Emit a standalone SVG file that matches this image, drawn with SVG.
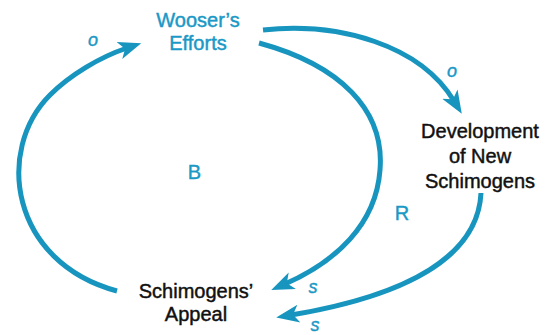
<svg xmlns="http://www.w3.org/2000/svg" width="545" height="335" viewBox="0 0 545 335">
<style>
.link{fill:none;stroke:#1795bf;stroke-width:5;}
.node{font-family:"Liberation Sans",Arial,sans-serif;font-size:20px;text-anchor:middle;fill:#111;stroke:#111;stroke-width:0.45;}
.blue{fill:#1a98c6;stroke:#1a98c6;}
.lbl{font-family:"Liberation Sans",Arial,sans-serif;font-size:18px;text-anchor:middle;fill:#1a98c6;stroke:#1a98c6;stroke-width:0.4;}
.big{font-size:20px;}
.pol{font-style:italic;}
</style>
<defs>
<marker id="ah" markerUnits="userSpaceOnUse" markerWidth="24" markerHeight="22" viewBox="0 -11 24 22" refX="8" refY="0" orient="auto">
<path d="M0,-9 L23,0 L0,9 L6,0 Z" fill="#1795bf"/>
</marker>
</defs>
<g id="connectors">
<path class="link" marker-end="url(#ah)" d="M 117 291 C 10 262, -5 150, 50 95 C 70 75, 100 57, 127 48"/>
<path class="link" marker-end="url(#ah)" d="M 263 30 C 340 22, 420 45, 454 101"/>
<path class="link" marker-end="url(#ah)" d="M 259 43 C 340 65, 385 110, 380 170 C 376 225, 335 262, 285 284"/>
<path class="link" marker-end="url(#ah)" d="M 481 193 C 478 255, 410 295, 291 315"/>
</g>
<g id="wooser">
<text class="node blue" x="198" y="27">Wooser’s</text>
<text class="node blue" x="198" y="50">Efforts</text>
</g>
<g id="development">
<text class="node" x="480" y="138">Development</text>
<text class="node" x="480" y="163">of New</text>
<text class="node" x="480" y="188">Schimogens</text>
</g>
<g id="appeal">
<text class="node" x="196" y="298">Schimogens’</text>
<text class="node" x="196" y="321">Appeal</text>
</g>
<g id="labels">
<text class="lbl pol" x="93" y="46">o</text>
<text class="lbl pol" x="452" y="77">o</text>
<text class="lbl big" x="194.5" y="179">B</text>
<text class="lbl big" x="402" y="220">R</text>
<text class="lbl pol" x="313" y="293">s</text>
<text class="lbl pol" x="315" y="331">s</text>
</g>
</svg>
